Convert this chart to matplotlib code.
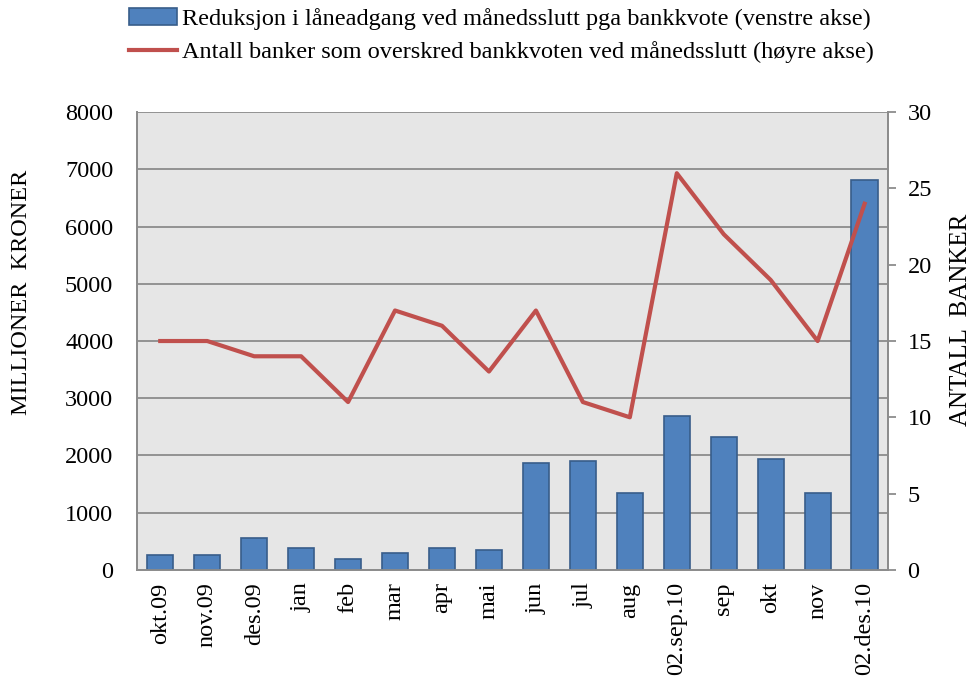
import matplotlib
matplotlib.use("Agg")
import matplotlib.pyplot as plt
from matplotlib.ticker import MultipleLocator

plt.rcParams["font.family"] = ["Liberation Serif", "DejaVu Serif"]

months = ["okt.09", "nov.09", "des.09", "jan", "feb", "mar", "apr", "mai",
          "jun", "jul", "aug", "02.sep.10", "sep", "okt", "nov", "02.des.10"]
reduction = [260, 260, 560, 385, 190, 300, 385, 350,
             1870, 1900, 1350, 2690, 2320, 1940, 1350, 6820]
banks = [15, 15, 14, 14, 11, 17, 16, 13, 17, 11, 10, 26, 22, 19, 15, 24]

bar_lbl = "Reduksjon i låneadgang ved månedsslutt pga bankkvote (venstre akse)"
line_lbl = "Antall banker som overskred bankkvoten ved månedsslutt (høyre akse)"

fig = plt.figure(figsize=(9.77, 6.8), dpi=100)
ax = fig.add_axes([0.140, 0.162, 0.769, 0.673])
ax2 = ax.twinx()

x = range(len(months))
bars = ax.bar(x, reduction, width=0.56, color="#4F81BD", edgecolor="#385D8A",
              linewidth=1.2, zorder=3, label=bar_lbl)
line, = ax2.plot(x, banks, color="#C0504D", linewidth=3.0, zorder=4,
                 label=line_lbl)

ax.set_facecolor("#E6E6E6")
ax.set_xlim(-0.5, len(months) - 0.5)
ax.set_ylim(0, 8000)
ax.yaxis.set_major_locator(MultipleLocator(1000))
ax.grid(axis="y", color="#8C8C8C", linewidth=1.3, zorder=0)
ax.set_axisbelow(True)
ax2.set_ylim(0, 30)
ax2.yaxis.set_major_locator(MultipleLocator(5))

ax.set_xticks(list(x))
ax.set_xticklabels(months, rotation=90, fontsize=17.5)
ax.tick_params(axis="x", length=0, pad=9)
ax.tick_params(axis="y", labelsize=17.5, length=0, pad=17)
ax2.tick_params(axis="y", labelsize=17.5, length=6, width=1.3,
                color="#8C8C8C", direction="out", pad=8)

for a in (ax, ax2):
    for s in a.spines.values():
        s.set_color("#8C8C8C")
        s.set_linewidth(1.3)
    a.spines["top"].set_visible(False)

ax.set_ylabel("MILLIONER  KRONER", fontsize=17.5)
ax.yaxis.set_label_coords(-0.14, 0.607)
ax2.set_ylabel("ANTALL  BANKER", fontsize=18)
ax2.yaxis.set_label_coords(1.082, 0.546)

fig.legend(handles=[bars, line], loc="upper center", bbox_to_anchor=(0.513, 1.02),
           frameon=False, fontsize=17.5, labelspacing=0.45, handlelength=2.0,
           handletextpad=0.2)

fig.savefig("out.png", dpi=100)
